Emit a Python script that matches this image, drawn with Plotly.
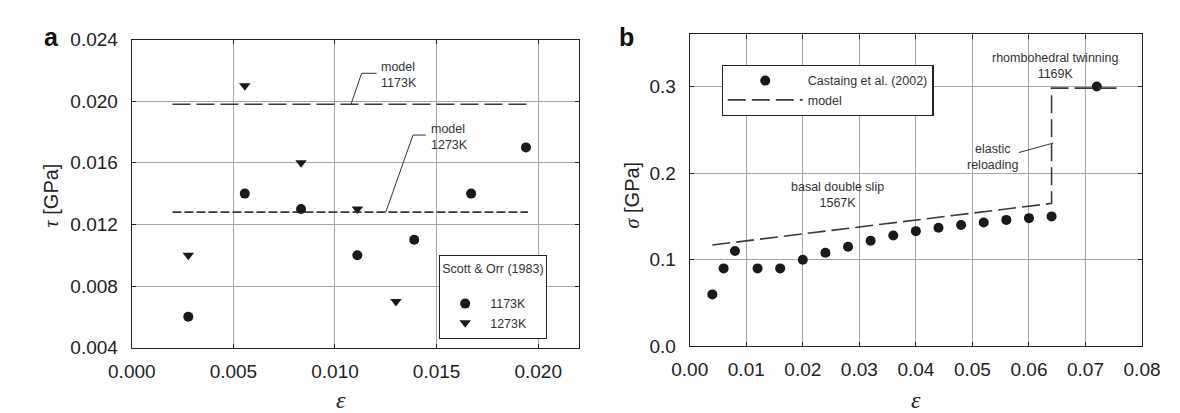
import plotly.graph_objects as go

W, H = 1180, 413

# ---------------- data: panel a ----------------
eps_a_1173 = [0.00278, 0.00556, 0.00833, 0.0111, 0.0139, 0.0167, 0.0194]
tau_1173 = [0.006, 0.014, 0.013, 0.010, 0.011, 0.014, 0.017]
eps_a_1273 = [0.00278, 0.00556, 0.00833, 0.0111, 0.0130]
tau_1273 = [0.010, 0.021, 0.016, 0.013, 0.007]
model_a_x = [0.002, 0.0195]
model_1173_y = [0.0198, 0.0198]
model_1273_y = [0.0128, 0.0128]

# ---------------- data: panel b ----------------
eps_b = [0.004, 0.006, 0.008, 0.012, 0.016, 0.020, 0.024, 0.028, 0.032, 0.036,
         0.040, 0.044, 0.048, 0.052, 0.056, 0.060, 0.064, 0.072]
sigma_b = [0.060, 0.090, 0.110, 0.090, 0.090, 0.100, 0.108, 0.115, 0.122, 0.128,
           0.133, 0.137, 0.140, 0.143, 0.146, 0.148, 0.150, 0.300]
model_b_x = [0.004, 0.064, 0.064, 0.076]
model_b_y = [0.117, 0.165, 0.298, 0.298]

# tick labels
xa_ticks = [0.000, 0.005, 0.010, 0.015, 0.020]
ya_ticks = [0.004, 0.008, 0.012, 0.016, 0.020, 0.024]
xb_ticks = [0.00, 0.01, 0.02, 0.03, 0.04, 0.05, 0.06, 0.07, 0.08]
yb_ticks = [0.0, 0.1, 0.2, 0.3]

FONT = "Liberation Sans, Arial, sans-serif"
TXT = "#333333"
MK = "#1a1a1a"
LN = "#3a3a3a"
GRID = "#a6a6a6"


def px(x):
    return x / W


def py(y):
    return 1 - y / H


fig = go.Figure()

# panel a traces
fig.add_trace(go.Scatter(x=model_a_x, y=model_1173_y, mode="lines", showlegend=False,
                         line=dict(color=LN, width=1.6, dash="18px,6px"), xaxis="x", yaxis="y"))
fig.add_trace(go.Scatter(x=model_a_x, y=model_1273_y, mode="lines", showlegend=False,
                         line=dict(color=LN, width=1.6, dash="9px,3px"), xaxis="x", yaxis="y"))
fig.add_trace(go.Scatter(x=eps_a_1173, y=tau_1173, mode="markers", name="1173K",
                         marker=dict(symbol="circle", size=10, color=MK),
                         xaxis="x", yaxis="y", legend="legend"))
fig.add_trace(go.Scatter(x=eps_a_1273, y=tau_1273, mode="markers", name="1273K",
                         marker=dict(symbol="triangle-down", size=10, color=MK),
                         xaxis="x", yaxis="y", legend="legend"))

# panel b traces
fig.add_trace(go.Scatter(x=eps_b, y=sigma_b, mode="markers", name="Castaing et al. (2002)",
                         marker=dict(symbol="circle", size=10, color=MK),
                         xaxis="x2", yaxis="y2", legend="legend2"))
fig.add_trace(go.Scatter(x=model_b_x, y=model_b_y, mode="lines", name="model",
                         line=dict(color=LN, width=1.6, dash="18px,6px"),
                         xaxis="x2", yaxis="y2", legend="legend2"))

axis_common = dict(
    showline=True, linecolor="#222222", linewidth=1.2, mirror="ticks",
    ticks="inside", ticklen=4, tickcolor="#222222", tickwidth=1,
    showgrid=True, gridcolor=GRID, gridwidth=1, zeroline=False,
    tickfont=dict(family=FONT, size=19, color="#222222"),
)

fig.update_layout(
    width=W, height=H,
    margin=dict(l=0, r=0, t=0, b=0),
    paper_bgcolor="white", plot_bgcolor="white",
    font=dict(family=FONT, color=TXT),
    xaxis=dict(domain=[px(103.5), px(567)], range=[0, 0.022], tickvals=xa_ticks,
               tickformat=".3f", anchor="y", ticklabelstandoff=6, **axis_common),
    yaxis=dict(domain=[py(347.3), py(22.7)], range=[0.004, 0.024], tickvals=ya_ticks,
               tickformat=".3f", anchor="x", ticklabelstandoff=9, **axis_common),
    xaxis2=dict(domain=[px(682), px(1151)], range=[0, 0.08], tickvals=xb_ticks,
                tickformat=".2f", anchor="y2", ticklabelstandoff=6, **axis_common),
    yaxis2=dict(domain=[py(346), py(17.3)], range=[0, 0.36], tickvals=yb_ticks,
                tickformat=".1f", anchor="x2", ticklabelstandoff=9, **axis_common),
    legend=dict(x=px(422), y=py(250), xanchor="left", yanchor="top",
                bgcolor="white", bordercolor="#222222", borderwidth=1.2,
                font=dict(family=FONT, size=12.5, color=TXT), itemwidth=40,
                title=dict(text="Scott & Orr (1983)<br> ", font=dict(family=FONT, size=12.5, color=TXT))),
    legend2=dict(x=px(715), y=py(49.3), xanchor="left", yanchor="top",
                 bgcolor="white", bordercolor="#222222", borderwidth=1.2,
                 font=dict(family=FONT, size=12.5, color=TXT), itemwidth=75),
)

annotations = []


def ann(text, x, y, xanchor="center", yanchor="middle", size=12.5, align="center", **kw):
    annotations.append(dict(text=text, x=px(x), y=py(y), xref="paper", yref="paper",
                            xanchor=xanchor, yanchor=yanchor, showarrow=False, align=align,
                            font=dict(family=FONT, size=size,
                                      color=kw.pop("color", TXT)), **kw))


# panel labels
ann("<b>a</b>", 20.5, 20, size=25, color="#111111")
ann("<b>b</b>", 616.5, 20, size=25, color="#111111")

# axis titles
ann('<span style="font-family:Liberation Serif"><i>ε</i></span>', 320, 402, size=24, color="#222222")
ann('<span style="font-family:Liberation Serif"><i>ε</i></span>', 916.5, 402, size=24, color="#222222")
ann('<span style="font-family:Liberation Serif"><i>τ</i></span> [GPa]', 20.7, 187, size=20,
    color="#222222", textangle=-90)
ann('<span style="font-family:Liberation Serif"><i>σ</i></span> [GPa]', 622, 186, size=20,
    color="#222222", textangle=-90)

# panel a model labels
ann("model<br>1173K", 359.5, 60, xanchor="left", align="left")
ann("model<br>1273K", 412, 125, xanchor="left", align="left")

# panel b labels
ann("rhombohedral twinning<br>1169K", 1061, 50.5)
ann("elastic<br>reloading", 995.5, 146.7)
ann("basal double slip<br>1567K", 835.5, 186.7)

fig.update_layout(annotations=annotations)

# leader lines (data coordinates)
fig.add_shape(type="path", xref="x", yref="y",
              path="M 0.01079 0.0198 L 0.01131 0.02181 L 0.01205 0.02181",
              line=dict(color=TXT, width=1))
fig.add_shape(type="path", xref="x", yref="y",
              path="M 0.0125 0.0128 L 0.01384 0.0178 L 0.01447 0.0178",
              line=dict(color=TXT, width=1))
fig.add_shape(type="line", xref="x2", yref="y2", x0=0.0582, y0=0.2237, x1=0.0643, y1=0.2346,
              line=dict(color=TXT, width=1))

fig.write_html("out.html")
